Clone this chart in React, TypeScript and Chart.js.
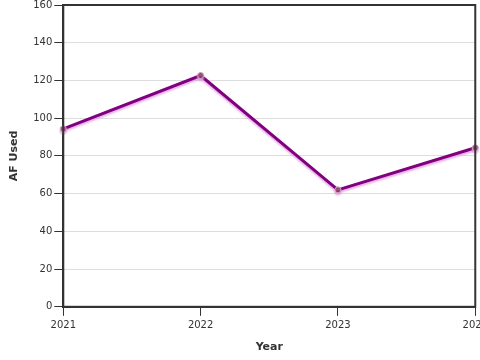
import React, { useEffect, useRef } from "react";
import { Chart, registerables } from "chart.js";

Chart.register(...registerables);

const years = ["2021", "2022", "2023", "2024"];
const afUsed = [94.3, 122.6, 62, 84.3];
const yTicks = [0, 20, 40, 60, 80, 100, 120, 140, 160];

const boxPlugin = {
  id: "box",
  afterDraw(chart: any) {
    const { ctx, chartArea } = chart;
    ctx.save();
    ctx.strokeStyle = "#333";
    ctx.lineWidth = 2;
    ctx.strokeRect(chartArea.left, chartArea.top, chartArea.right - chartArea.left, chartArea.bottom - chartArea.top);
    ctx.restore();
  },
};

const shadowPlugin = {
  id: "shadow",
  beforeDatasetDraw(chart: any) {
    const ctx = chart.ctx;
    ctx.save();
    ctx.shadowColor = "rgba(220,150,220,0.8)";
    ctx.shadowOffsetY = 2;
    ctx.shadowBlur = 2;
  },
  afterDatasetDraw(chart: any) {
    chart.ctx.restore();
  },
};

export default function App() {
  const ref = useRef<HTMLCanvasElement>(null);
  useEffect(() => {
    const chart = new Chart(ref.current!, {
      type: "line",
      data: {
        labels: years,
        datasets: [
          {
            data: afUsed,
            borderColor: "#800080",
            borderWidth: 3,
            pointRadius: 3,
            pointBackgroundColor: "#7a3a5a",
            pointBorderColor: "#d8a0c0",
            pointBorderWidth: 1,
            tension: 0,
          },
        ],
      },
      options: {
        animation: false,
        responsive: false,
        maintainAspectRatio: false,
        plugins: { legend: { display: false }, tooltip: { enabled: false } },
        layout: { padding: { left: 4, top: 0, right: 0, bottom: 2 } },
        scales: {
          x: {
            type: "category",
            offset: false,
            grid: { drawOnChartArea: false, tickColor: "#333", tickLength: 9, lineWidth: 1 },
            border: { color: "#333", width: 2 },
            ticks: { color: "#333", font: { family: "DejaVu Sans", size: 10 }, padding: 4, maxRotation: 0 },
            title: { display: true, text: "Year", color: "#333", font: { family: "DejaVu Sans", size: 11, weight: "bold" }, padding: { top: 5 } },
          },
          y: {
            min: 0,
            max: 160,
            afterBuildTicks: (axis: any) => {
              axis.ticks = yTicks.map((v) => ({ value: v }));
            },
            afterFit: (axis: any) => {
              axis.paddingTop = 4;
            },
            grid: { color: "#dddddd", tickColor: "#333", tickLength: 9, lineWidth: 1 },
            border: { color: "#333", width: 2 },
            ticks: { color: "#333", font: { family: "DejaVu Sans", size: 10 }, padding: 2 },
            title: { display: true, text: "AF Used", color: "#333", font: { family: "DejaVu Sans", size: 11, weight: "bold" }, padding: { bottom: 10 } },
          },
        },
      },
      plugins: [shadowPlugin, boxPlugin],
    });
    return () => chart.destroy();
  }, []);
  return (
    <div style={{ position: "fixed", left: 0, top: 0, width: 480, height: 360, overflow: "hidden", background: "#fff" }}>
      <canvas ref={ref} width={492} height={360} style={{ width: 492, height: 360, display: "block" }} />
    </div>
  );
}
